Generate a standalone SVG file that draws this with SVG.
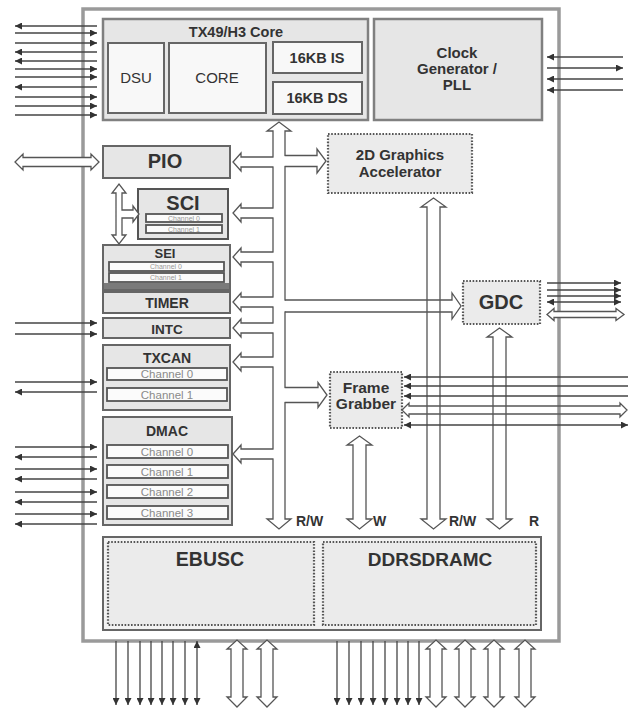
<svg xmlns="http://www.w3.org/2000/svg" width="642" height="711" viewBox="0 0 642 711">
<defs>
<style>
.chip{fill:#fff;stroke:#9a9a9a;stroke-width:3.5}
.box{fill:#e6e6e6;stroke:#808080;stroke-width:2.5}
.pbox{fill:#e6e6e6;stroke:#666;stroke-width:2}
.inner{fill:#f8f8f8;stroke:#666;stroke-width:2}
.bar{fill:#fbfbfb;stroke:#555;stroke-width:1.8}
.dot{fill:#ebebeb;stroke:#555;stroke-width:2.2;stroke-dasharray:1.6 1.6}
.bus{fill:#fff;stroke:#555;stroke-width:1.3}
.busn{fill:none;stroke:#555;stroke-width:1.3}
.pin{stroke:#444;stroke-width:1.3;fill:none}
.patch{fill:#fff}
.t{font-family:"Liberation Sans",Arial,sans-serif;font-weight:bold;fill:#333;text-anchor:middle}
.n{font-family:"Liberation Sans",Arial,sans-serif;fill:#333;text-anchor:middle}
.ch{font-family:"Liberation Sans",Arial,sans-serif;fill:#8a8a8a;text-anchor:middle;font-size:11.5px}
.chs{font-family:"Liberation Sans",Arial,sans-serif;fill:#999;text-anchor:middle;font-size:7px}
.lab{font-family:"Liberation Sans",Arial,sans-serif;font-weight:bold;fill:#333;font-size:14px}
</style>
<marker id="ah" viewBox="0 0 8 8" refX="8" refY="4" markerWidth="7" markerHeight="7" markerUnits="userSpaceOnUse" orient="auto-start-reverse"><path d="M0,0 L8,4 L0,8 z" fill="#333"/></marker>
</defs>
<rect width="642" height="711" fill="#fff"/>
<rect class="chip" x="83" y="9" width="476" height="632"/>

<g id="core">
<rect class="box" x="103" y="19" width="265" height="101"/>
<text class="t" x="236" y="37" font-size="14.5">TX49/H3 Core</text>
<g id="dsu"><rect class="inner" x="108" y="43" width="56" height="70"/><text class="n" x="136" y="83" font-size="15">DSU</text></g>
<g id="cpu"><rect class="inner" x="169" y="43" width="97" height="70"/><text class="n" x="217" y="83" font-size="15">CORE</text></g>
<g id="icache"><rect class="inner" x="273" y="42" width="89" height="31"/><text class="t" x="317" y="63" font-size="14.5">16KB IS</text></g>
<g id="dcache"><rect class="inner" x="273" y="82" width="89" height="32"/><text class="t" x="317" y="103" font-size="14.5">16KB DS</text></g>
</g>

<g id="clock">
<rect class="box" x="374" y="19" width="168" height="101"/>
<text class="t" x="457" y="58" font-size="15">Clock</text>
<text class="t" x="457" y="74" font-size="15">Generator /</text>
<text class="t" x="457" y="90" font-size="15">PLL</text>
</g>

<g id="pio">
<rect class="pbox" x="103" y="146" width="127" height="32"/>
<text class="t" x="165" y="168" font-size="20">PIO</text>
</g>

<g id="sci">
<rect class="pbox" x="138" y="189" width="90" height="50" style="stroke:#555"/>
<text class="t" x="183" y="210" font-size="20">SCI</text>
<rect class="bar" x="146" y="214" width="76" height="8"/>
<text class="chs" x="184" y="220.5">Channel 0</text>
<rect class="bar" x="146" y="225" width="76" height="8"/>
<text class="chs" x="184" y="231.5">Channel 1</text>
</g>

<g id="sei">
<rect class="pbox" x="103" y="245" width="127" height="45"/>
<rect x="104" y="283" width="125" height="6" fill="#7a7a7a"/>
<text class="t" x="165" y="258" font-size="13">SEI</text>
<rect class="bar" x="109" y="262" width="115" height="9"/>
<text class="chs" x="166" y="269">Channel 0</text>
<rect class="bar" x="109" y="273" width="115" height="9"/>
<text class="chs" x="166" y="280">Channel 1</text>
</g>

<g id="timer">
<rect class="pbox" x="103" y="292" width="127" height="21"/>
<text class="t" x="167" y="308" font-size="14">TIMER</text>
</g>

<g id="intc">
<rect class="pbox" x="103" y="318" width="127" height="20"/>
<text class="t" x="167" y="334" font-size="13.5">INTC</text>
</g>

<g id="txcan">
<rect class="pbox" x="103" y="345" width="127" height="65"/>
<text class="t" x="167" y="363" font-size="14">TXCAN</text>
<rect class="bar" x="107" y="368" width="120" height="12"/>
<text class="ch" x="167" y="378">Channel 0</text>
<rect class="bar" x="107" y="388" width="120" height="13"/>
<text class="ch" x="167" y="399">Channel 1</text>
</g>

<g id="dmac">
<rect class="pbox" x="103" y="417" width="129" height="108"/>
<text class="t" x="167" y="436" font-size="14">DMAC</text>
<rect class="bar" x="107" y="445" width="121" height="13"/>
<text class="ch" x="167" y="456">Channel 0</text>
<rect class="bar" x="107" y="465" width="121" height="13"/>
<text class="ch" x="167" y="476">Channel 1</text>
<rect class="bar" x="107" y="485" width="121" height="13"/>
<text class="ch" x="167" y="496">Channel 2</text>
<rect class="bar" x="107" y="506" width="121" height="13"/>
<text class="ch" x="167" y="517">Channel 3</text>
</g>

<g id="gfx2d">
<rect class="dot" x="328" y="134" width="144" height="59"/>
<text class="t" x="400" y="160" font-size="15">2D Graphics</text>
<text class="t" x="400" y="177" font-size="15">Accelerator</text>
</g>

<g id="gdc">
<rect class="dot" x="463" y="281" width="77" height="43"/>
<text class="t" x="501" y="309" font-size="20">GDC</text>
</g>

<g id="framegrabber">
<rect class="dot" x="330" y="372" width="72" height="56"/>
<text class="t" x="366" y="393" font-size="15.5">Frame</text>
<text class="t" x="366" y="409" font-size="15.5">Grabber</text>
</g>

<g id="memctrl">
<rect x="103" y="537" width="438" height="93" fill="#f2f2f2" stroke="#666" stroke-width="2"/>
<g id="ebusc"><rect class="dot" x="108" y="542" width="206" height="83"/><text class="t" x="210" y="566" font-size="19.5">EBUSC</text></g>
<g id="ddrsdramc"><rect class="dot" x="323" y="542" width="213" height="83"/><text class="t" x="430" y="566" font-size="19">DDRSDRAMC</text></g>
</g>

<g id="connectors">
<!-- main bus -->
<path class="bus" d="M273 131 H267 L279 122 L291 131 H285 V519 H291 L279 529 L267 519 H273 Z"/>
<!-- left branches -->
<rect class="patch" x="272" y="157.65" width="2.5" height="8.7"/>
<path class="bus" d="M273 157 H241 V153 L233 162 L241 171 V167 H273"/>
<rect class="patch" x="272" y="208.65" width="2.5" height="8.7"/>
<path class="bus" d="M273 208 H241 V204 L233 213 L241 222 V218 H273"/>
<rect class="patch" x="272" y="252.65" width="2.5" height="8.7"/>
<path class="bus" d="M273 252 H241 V248 L233 257 L241 266 V262 H273"/>
<rect class="patch" x="272" y="297.65" width="2.5" height="8.7"/>
<path class="bus" d="M273 297 H241 V293 L233 302 L241 311 V307 H273"/>
<rect class="patch" x="272" y="323.65" width="2.5" height="8.7"/>
<path class="bus" d="M273 323 H241 V319 L233 328 L241 337 V333 H273"/>
<rect class="patch" x="272" y="357.65" width="2.5" height="8.7"/>
<path class="bus" d="M273 357 H241 V353 L233 362 L241 371 V367 H273"/>
<rect class="patch" x="272" y="449.65" width="2.5" height="8.7"/>
<path class="bus" d="M273 449 H241 V445 L233 454 L241 463 V459 H273"/>
<!-- right branches -->
<rect class="patch" x="283.5" y="156.15" width="2.5" height="9.7"/>
<path class="bus" d="M285 155.5 H317 V149 L326 161 L317 173 V166.5 H285"/>
<rect class="patch" x="283.5" y="388.15" width="2.5" height="13.7"/>
<path class="bus" d="M285 387.5 H318 V382.5 L327 395 L318 407.5 V402.5 H285"/>
<!-- vertical buses -->
<path class="bus" d="M427 207 H421 L433.5 198 L446 207 H440 V519 H446 L433.5 529 L421 519 H427 Z"/>
<path class="bus" d="M353 445 H347 L359.5 436 L372 445 H366 V519 H372 L359.5 529 L347 519 H353 Z"/>
<path class="bus" d="M493 337 H487 L499.5 328 L512 337 H506 V519 H512 L499.5 529 L487 519 H493 Z"/>
<!-- GDC branch -->
<rect class="patch" x="283.5" y="300.65" width="2.5" height="10.7"/>
<path class="busn" d="M285 300 H452 V293 L461 306 L452 319 V312 H285"/>
<!-- SCI internal bus -->
<path class="bus" d="M116 193 H112 L119 184 L126 193 H122 V210 H133 V206 L139 214 L133 222 V218 H122 V235 H126 L119 244 L112 235 H116 Z"/>
<!-- PIO port bus -->
<path class="bus" d="M23 157.5 H91 V154 L99 162 L91 170 V166.5 H23 V170 L15 162 L23 154 Z"/>
<!-- bus labels -->
<text class="lab" x="296" y="526">R/W</text>
<text class="lab" x="373" y="526">W</text>
<text class="lab" x="449" y="526">R/W</text>
<text class="lab" x="529" y="526">R</text>

<!-- top-left pins -->
<line class="pin" x1="97" y1="26" x2="15" y2="26" marker-end="url(#ah)"/>
<line class="pin" x1="15" y1="33" x2="97" y2="33" marker-end="url(#ah)"/>
<line class="pin" x1="15" y1="43" x2="97" y2="43" marker-end="url(#ah)"/>
<line class="pin" x1="97" y1="52" x2="15" y2="52" marker-end="url(#ah)"/>
<line class="pin" x1="97" y1="61" x2="15" y2="61" marker-end="url(#ah)"/>
<line class="pin" x1="15" y1="69" x2="97" y2="69" marker-end="url(#ah)"/>
<line class="pin" x1="15" y1="77" x2="97" y2="77" marker-end="url(#ah)"/>
<line class="pin" x1="97" y1="87" x2="15" y2="87" marker-end="url(#ah)"/>
<line class="pin" x1="15" y1="97" x2="97" y2="97" marker-end="url(#ah)"/>
<line class="pin" x1="15" y1="106" x2="97" y2="106" marker-end="url(#ah)"/>
<line class="pin" x1="15" y1="115" x2="97" y2="115" marker-end="url(#ah)"/>
<!-- clock pins -->
<line class="pin" x1="623" y1="57" x2="547" y2="57" marker-end="url(#ah)"/>
<line class="pin" x1="547" y1="68" x2="623" y2="68" marker-end="url(#ah)"/>
<line class="pin" x1="623" y1="79" x2="547" y2="79" marker-end="url(#ah)"/>
<line class="pin" x1="623" y1="90" x2="547" y2="90" marker-end="url(#ah)"/>
<!-- INTC pins -->
<line class="pin" x1="15" y1="323" x2="97" y2="323" marker-end="url(#ah)"/>
<line class="pin" x1="15" y1="334" x2="97" y2="334" marker-end="url(#ah)"/>
<!-- TXCAN pins -->
<line class="pin" x1="15" y1="382" x2="97" y2="382" marker-end="url(#ah)"/>
<line class="pin" x1="97" y1="392" x2="15" y2="392" marker-end="url(#ah)"/>
<!-- DMAC pins -->
<line class="pin" x1="15" y1="447" x2="97" y2="447" marker-end="url(#ah)"/>
<line class="pin" x1="97" y1="457" x2="15" y2="457" marker-end="url(#ah)"/>
<line class="pin" x1="15" y1="469" x2="97" y2="469" marker-end="url(#ah)"/>
<line class="pin" x1="97" y1="479" x2="15" y2="479" marker-end="url(#ah)"/>
<line class="pin" x1="15" y1="492" x2="97" y2="492" marker-end="url(#ah)"/>
<line class="pin" x1="97" y1="502" x2="15" y2="502" marker-end="url(#ah)"/>
<line class="pin" x1="15" y1="514" x2="97" y2="514" marker-end="url(#ah)"/>
<line class="pin" x1="97" y1="524" x2="15" y2="524" marker-end="url(#ah)"/>
<!-- GDC pins -->
<line class="pin" x1="547" y1="283" x2="621" y2="283" marker-end="url(#ah)"/>
<line class="pin" x1="547" y1="290" x2="621" y2="290" marker-end="url(#ah)"/>
<line class="pin" x1="547" y1="296" x2="621" y2="296" marker-end="url(#ah)"/>
<line class="pin" x1="547" y1="302" x2="621" y2="302" marker-start="url(#ah)" marker-end="url(#ah)"/>
<path class="bus" d="M554 311.5 H616 V308.5 L624 314.5 L616 320.5 V317.5 H554 V320.5 L547 314.5 L554 308.5 Z"/>
<!-- Frame grabber pins -->
<line class="pin" x1="628" y1="377" x2="404" y2="377" marker-end="url(#ah)"/>
<line class="pin" x1="628" y1="386" x2="404" y2="386" marker-end="url(#ah)"/>
<line class="pin" x1="628" y1="396" x2="404" y2="396" marker-end="url(#ah)"/>
<path class="busn" d="M409 406 H620 V403 L627 410 L620 417 V414 H409 V417 L402 410 L409 403 Z"/>
<line class="pin" x1="404" y1="425" x2="628" y2="425" marker-start="url(#ah)" marker-end="url(#ah)"/>
<!-- bottom pins -->
<line class="pin" x1="116" y1="641" x2="116" y2="705" marker-end="url(#ah)"/>
<line class="pin" x1="128" y1="641" x2="128" y2="705" marker-end="url(#ah)"/>
<line class="pin" x1="140" y1="641" x2="140" y2="705" marker-end="url(#ah)"/>
<line class="pin" x1="151" y1="641" x2="151" y2="705" marker-end="url(#ah)"/>
<line class="pin" x1="162" y1="641" x2="162" y2="705" marker-end="url(#ah)"/>
<line class="pin" x1="173" y1="641" x2="173" y2="705" marker-end="url(#ah)"/>
<line class="pin" x1="185" y1="641" x2="185" y2="705" marker-end="url(#ah)"/>
<line class="pin" x1="197" y1="641" x2="197" y2="705" marker-start="url(#ah)" marker-end="url(#ah)"/>
<line class="pin" x1="337" y1="641" x2="337" y2="705" marker-end="url(#ah)"/>
<line class="pin" x1="349" y1="641" x2="349" y2="705" marker-end="url(#ah)"/>
<line class="pin" x1="361" y1="641" x2="361" y2="705" marker-end="url(#ah)"/>
<line class="pin" x1="373" y1="641" x2="373" y2="705" marker-end="url(#ah)"/>
<line class="pin" x1="385" y1="641" x2="385" y2="705" marker-end="url(#ah)"/>
<line class="pin" x1="397" y1="641" x2="397" y2="705" marker-end="url(#ah)"/>
<line class="pin" x1="408" y1="641" x2="408" y2="705" marker-end="url(#ah)"/>
<line class="pin" x1="419" y1="641" x2="419" y2="705" marker-end="url(#ah)"/>
<path class="bus" d="M231 649 H227 L237 640 L247 649 H243 V697 H247 L237 707 L227 697 H231 Z"/>
<path class="bus" d="M261 649 H257 L267 640 L277 649 H273 V697 H277 L267 707 L257 697 H261 Z"/>
<path class="bus" d="M430 649 H426 L436 640 L446 649 H442 V697 H446 L436 707 L426 697 H430 Z"/>
<path class="bus" d="M459 649 H455 L465 640 L475 649 H471 V697 H475 L465 707 L455 697 H459 Z"/>
<path class="bus" d="M488 649 H484 L494 640 L504 649 H500 V697 H504 L494 707 L484 697 H488 Z"/>
<path class="bus" d="M519 649 H515 L525 640 L535 649 H531 V697 H535 L525 707 L515 697 H519 Z"/>
</g>
</svg>
